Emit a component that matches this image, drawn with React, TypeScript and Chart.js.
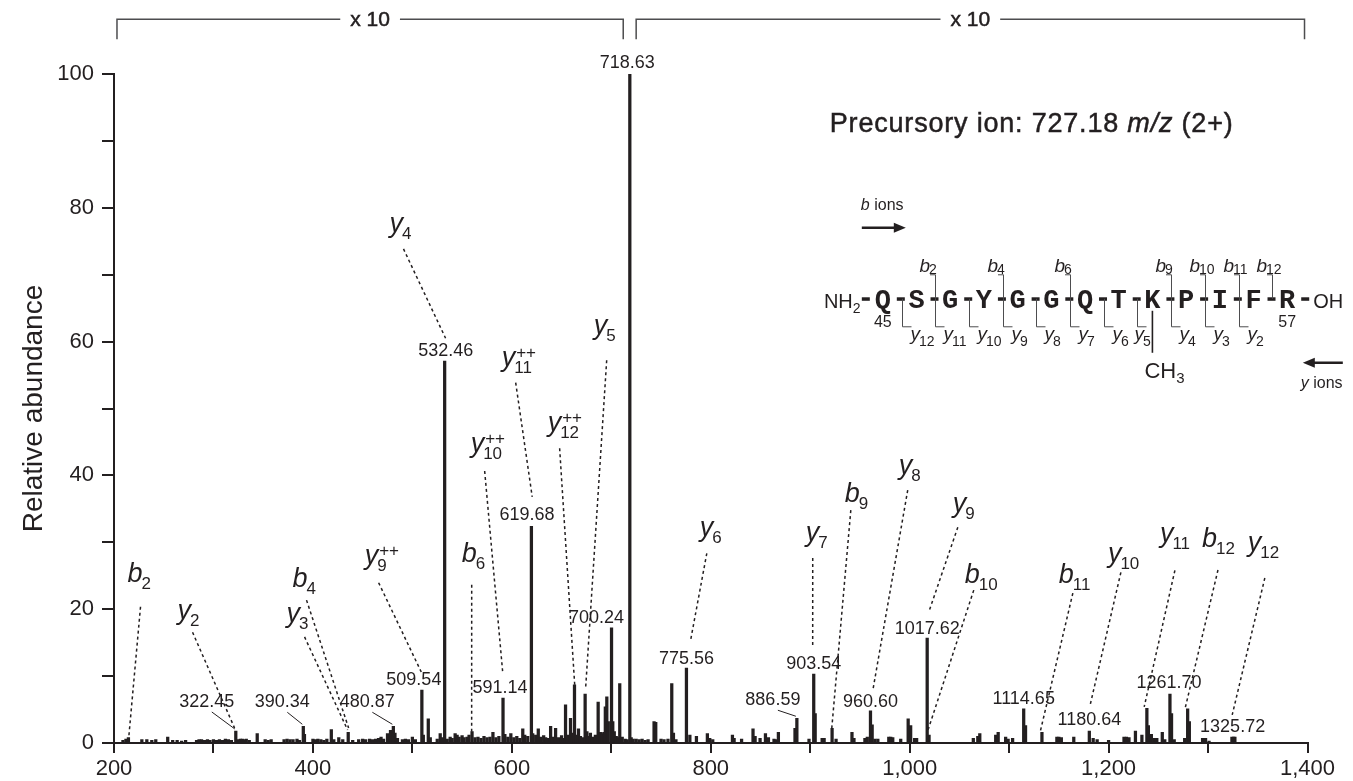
import React, { useEffect, useRef } from 'react';
import { Chart, registerables } from 'chart.js';

Chart.register(...registerables);

const FONT = '"Liberation Sans", Arial, Helvetica, sans-serif';
const MONO = '"Liberation Mono", "Courier New", monospace';
const INK = '#231f20';

// ---- Labelled peaks (m/z, relative abundance) ----
const labelledMz = [322.45, 390.34, 480.87, 509.54, 532.46, 591.14, 619.68, 700.24, 718.63, 775.56, 886.59, 903.54, 960.6, 1017.62, 1114.65, 1180.64, 1261.7, 1325.72];
const labelledAbundance = [1.8, 2.5, 2.5, 7.9, 57.1, 6.7, 32.4, 17.2, 100, 11.2, 3.7, 10.3, 4.8, 15.7, 5.1, 1.8, 7.3, 0.9];

// ---- Unlabelled peaks, [m/z, abundance] ----
const noiseLow: [number, number][] = [
  [209, 0.4], [212, 0.6], [214.5, 0.8], [228, 0.5], [233, 0.5], [238, 0.4], [242, 0.5], [254, 0.9], [259, 0.4], [263.5, 0.4],
  [268, 0.3], [272, 0.4], [283, 0.4], [285.5, 0.5], [288, 0.5], [291, 0.4], [294, 0.5], [296.5, 0.4], [300, 0.5], [303, 0.4],
  [306, 0.5], [309, 0.4], [312, 0.6], [315, 0.5], [318, 0.4], [325, 0.5], [327, 0.6], [329, 0.6], [331, 0.5], [333, 0.6],
  [336, 0.4], [344, 1.4], [352, 0.5], [355, 0.4], [358, 0.5], [371, 0.5], [374, 0.6], [377, 0.5], [380, 0.5], [384, 0.6],
  [386.5, 0.4], [391.5, 1.3], [400, 0.6], [402.5, 0.5], [405, 0.6], [408, 0.5], [411, 0.4], [414, 0.6], [418.5, 2.0], [421, 0.5],
  [426, 0.8], [430, 0.5], [435.5, 1.6], [440, 0.4], [446, 0.5], [450, 0.6], [453, 0.5], [457, 0.6], [460, 0.5], [463, 0.6],
  [466, 0.7], [468.5, 0.9], [471, 0.6], [475, 1.4], [478, 1.9], [482.5, 1.5], [485, 0.7], [490, 0.5], [493, 0.6], [496, 0.5],
  [500, 0.9], [503, 0.5], [511, 1.2], [516, 3.6], [518, 0.8],
];
const noiseMid: [number, number][] = [
  [525, 0.6], [528, 1.4], [530, 0.8], [535, 0.6], [538, 0.9], [540, 0.7], [543, 1.4], [545, 1.2], [547, 0.9], [550, 1.1],
  [552, 0.8], [555, 0.9], [557, 1.2], [560, 1.7], [563, 0.8], [566, 0.9], [569, 0.7], [572, 1.0], [575, 0.8], [578, 0.9],
  [581, 1.6], [584, 0.8], [587, 1.0], [593, 1.3], [596, 0.9], [599, 1.4], [602, 0.8], [605, 1.0], [608, 0.7], [611, 2.1],
  [613, 1.2], [616, 1.0], [621, 1.4], [624, 1.2], [626.6, 2.1], [629, 0.9], [632, 1.1], [634, 0.8], [637, 0.7], [639, 2.5],
  [641, 0.9], [644, 2.2], [647, 0.8], [650, 1.1], [652, 0.7], [654, 5.7], [656, 1.2], [659, 3.7], [661, 1.5], [663, 8.7],
  [665, 1.2], [667, 2.1], [669, 1.0], [671, 0.8], [673.7, 7.3], [675.5, 1.7], [677, 1.0], [679, 1.5], [681, 0.9], [684, 1.2],
  [686.8, 6.1], [689, 1.6], [691, 1.4], [692.5, 1.6], [694, 5.4], [695.5, 6.9], [697, 3.2], [701.5, 3.2], [703, 1.7], [705, 1.0],
  [707, 0.8], [708.5, 8.9], [711, 0.9], [714, 0.6], [716, 0.5],
];
const noiseHigh: [number, number][] = [
  [720, 0.8], [722, 0.6], [725, 0.6], [728, 0.5], [731, 0.6], [734, 0.4], [737, 0.5], [743, 3.2], [744.7, 3.1], [750, 0.6],
  [753, 0.5], [757, 0.6], [760.8, 8.9], [762.5, 1.5], [765, 0.5], [779, 1.2], [785.6, 1.0], [796.6, 1.4], [799, 0.7], [802, 0.5],
  [821.8, 1.2], [823.5, 0.7], [831, 0.6], [842.5, 2.1], [844.6, 1.0], [849.6, 0.7], [855, 1.4], [858, 0.8], [863.6, 0.6], [866, 0.5],
  [868, 1.6], [884.7, 2.2], [898.8, 0.6], [905, 4.4], [912, 0.7], [914, 0.7], [922, 2.2], [926, 0.6], [942, 1.6], [944, 0.7],
  [955, 0.7], [957.4, 0.9], [962.3, 2.7], [965, 0.6], [968, 0.6], [979, 0.9], [981, 0.9], [983, 0.8], [991, 0.6], [998.5, 3.6],
  [1001, 2.6], [1005, 0.7], [1007, 0.7], [1019.5, 1.2], [1064, 0.7], [1068.5, 1.0], [1070.5, 1.4], [1086.5, 1.2], [1089, 1.6], [1096.5, 0.9],
  [1099, 0.6], [1103.5, 0.7], [1116.5, 2.6], [1133, 1.6], [1148, 0.9], [1150, 0.9], [1152.5, 0.8], [1165, 0.9], [1184.5, 0.7], [1188.5, 0.5],
  [1200, 0.4], [1215.5, 0.9], [1218, 0.9], [1220.5, 0.8], [1227, 1.8], [1233.5, 1.2], [1238.5, 5.2], [1240, 2.6], [1243, 1.3], [1246, 0.7],
  [1248.5, 0.7], [1254, 1.6], [1256.5, 0.5], [1263.3, 4.4], [1266, 0.5], [1276.5, 0.7], [1279.5, 5.1], [1281.2, 3.2], [1294.5, 0.7], [1297.5, 0.7],
  [1301, 0.3], [1324, 0.9], [1327, 0.9],
];

// ---- Axis ticks ----
const xMin = 200;
const xMax = 1400;
const xStep = 100;
const xLabelEvery = 200;
const yMin = 0;
const yMax = 100;
const yStep = 10;
const yLabelEvery = 20;

// ---- Value label placement: label centre offset (px) from peak top, leader line flag ----
const valueLabelPlacement: Record<string, [number, number, boolean]> = {
  '322.45': [-29, -29, true],
  '390.34': [-21, -24, true],
  '480.87': [-26, -24, true],
  '509.54': [-8, -10, false],
  '532.46': [1, -9.5, false],
  '591.14': [-3, -10, false],
  '619.68': [-4.5, -11, false],
  '700.24': [-15, -10, false],
  '718.63': [-2.5, -11, false],
  '775.56': [0, -9.5, false],
  '886.59': [-24, -18, true],
  '903.54': [0, -10, false],
  '960.60': [0, -9, false],
  '1017.62': [0, -9, false],
  '1114.65': [0, -10, false],
  '1180.64': [0, -11, false],
  '1261.70': [-1, -11, false],
  '1325.72': [-1, -10, false],
};

// ---- Ion annotations: letter, subscript, superscript, label (m/z, abundance), line start offset (px), line end (m/z, abundance) ----
type Ion = [string, string, string, number, number, number, number, number, number];
const ionAnnotations: Ion[] = [
  ['b', '2', '', 213.6, 24.1, 13, 25, 214.6, 0.45],
  ['y', '2', '', 263.9, 18.5, 15, 13, 321.2, 2.24],
  ['b', '4', '', 379.5, 23.3, 14, 13, 435.9, 2.24],
  ['y', '3', '', 373.5, 18.1, 18, 15, 434.9, 1.94],
  ['y', '9', '++', 452, 26.8, 14, 19, 509.3, 10.5],
  ['b', '6', '', 549.6, 27.1, 10, 23, 559.6, 1.64],
  ['y', '10', '++', 558.6, 43.5, 14, 19, 590.8, 10.6],
  ['y', '11', '++', 589.8, 56.4, 14, 17, 620.5, 36.8],
  ['y', '12', '++', 636, 46.6, 12, 17, 663.2, 8.7],
  ['y', '4', '', 477, 76.4, 14, 17, 533.4, 60.5],
  ['y', '5', '', 682.3, 61.1, 13, 26, 674.2, 8.2],
  ['y', '6', '', 789, 30.9, 7, 17, 779.8, 15.4],
  ['y', '7', '', 895.5, 30.2, 7, 17, 902.5, 14.2],
  ['b', '9', '', 934.8, 36, 6, 8, 921.7, 2.24],
  ['y', '8', '', 989, 40.2, 9, 16, 963, 7.9],
  ['y', '9', '', 1043.4, 34.5, 5, 15, 1019.5, 19.7],
  ['b', '10', '', 1055.4, 23.9, 9, 7, 1017.5, 1.5],
  ['b', '11', '', 1150, 23.9, 14, 10, 1131.2, 1.64],
  ['y', '10', '', 1199.3, 27, 13, 10, 1181.5, 5.7],
  ['y', '11', '', 1251.6, 30, 15, 28, 1235.8, 5.4],
  ['b', '12', '', 1293.9, 29.3, 16, 23, 1277, 5.2],
  ['y', '12', '', 1340, 28.7, 17, 27, 1324.3, 4.2],
];

// ---- Top "x 10" brackets (m/z spans) ----
const bracketSpans: [number, number][] = [[203, 712], [725, 1397]];
const bracketText = 'x 10';
const bracketTopAb = 108.2;
const bracketFootAb = 105.2;

// ---- Inset ----
const precursorAnchor: [number, number] = [919.7, 91.3];
const sequenceAnchor: [number, number] = [973, 66.4];
const residues = ['Q', 'S', 'G', 'Y', 'G', 'G', 'Q', 'T', 'K', 'P', 'I', 'F', 'R'];
const bIonAtCleavage = ['', '2', '', '4', '', '6', '', '', '9', '10', '11', '12'];
const yIonAtCleavage = ['12', '11', '10', '9', '8', '7', '6', '5', '4', '3', '2', ''];
const firstResidueNumber = '45';
const lastResidueNumber = '57';
const methylResidueIndex = 8;

function drawSubText(ctx: CanvasRenderingContext2D, letter: string, sub: string, sup: string, x: number, y: number, size: number, subSize: number, subDrop: number, supRise: number) {
  ctx.textAlign = 'left';
  ctx.textBaseline = 'alphabetic';
  ctx.font = `italic ${size}px ${FONT}`;
  ctx.fillText(letter, x, y);
  const w = ctx.measureText(letter).width;
  ctx.font = `${subSize}px ${FONT}`;
  if (sub) ctx.fillText(sub, x + w - 1, y + subDrop);
  if (sup) ctx.fillText(sup, x + w + 1, y - supRise);
}

function arrow(ctx: CanvasRenderingContext2D, x1: number, x2: number, y: number) {
  const dir = Math.sign(x2 - x1);
  ctx.beginPath();
  ctx.lineWidth = 2.5;
  ctx.moveTo(x1, y);
  ctx.lineTo(x2 - dir * 8, y);
  ctx.stroke();
  ctx.beginPath();
  ctx.moveTo(x2, y);
  ctx.lineTo(x2 - dir * 12, y - 5);
  ctx.lineTo(x2 - dir * 12, y + 5);
  ctx.closePath();
  ctx.fill();
}

const annotationPlugin = {
  id: 'spectrumAnnotations',
  afterDatasetsDraw(chart: any) {
    const ctx: CanvasRenderingContext2D = chart.ctx;
    const xs = chart.scales.x;
    const ys = chart.scales.y;
    const px = (m: number) => xs.getPixelForValue(m);
    const py = (a: number) => ys.getPixelForValue(a);
    ctx.save();
    ctx.fillStyle = INK;
    ctx.strokeStyle = INK;

    // value labels
    labelledMz.forEach((mz, i) => {
      const text = mz.toFixed(2);
      const place = valueLabelPlacement[text];
      if (!place) return;
      const x = px(mz);
      const y = py(labelledAbundance[i]);
      const lx = x + place[0];
      const ly = y + place[1];
      ctx.font = `18px ${FONT}`;
      ctx.textAlign = 'center';
      ctx.textBaseline = 'middle';
      ctx.fillText(text, lx, ly);
      if (place[2]) {
        ctx.beginPath();
        ctx.lineWidth = 1;
        ctx.setLineDash([]);
        ctx.moveTo(lx + 5, ly + 10);
        ctx.lineTo(x - 1, y - 2);
        ctx.stroke();
      }
    });

    // ion annotations
    ionAnnotations.forEach(([letter, sub, sup, mz, ab, dx, dy, tmz, tab]) => {
      const x = px(mz);
      const y = py(ab);
      ctx.beginPath();
      ctx.setLineDash([3, 3]);
      ctx.lineWidth = 1.5;
      ctx.moveTo(x + dx, y + dy);
      ctx.lineTo(px(tmz), py(tab));
      ctx.stroke();
      ctx.setLineDash([]);
      drawSubText(ctx, letter, sub, sup, x, y, 27, 17, 7, 8);
    });

    // brackets
    const yT = py(bracketTopAb);
    const yB = py(bracketFootAb);
    bracketSpans.forEach(([a, b]) => {
      const x1 = px(a);
      const x2 = px(b);
      const cx = (x1 + x2) / 2;
      ctx.font = `21px ${FONT}`;
      const w = ctx.measureText(bracketText).width;
      ctx.strokeStyle = '#4d4d4f';
      ctx.lineWidth = 1.5;
      ctx.beginPath();
      ctx.moveTo(x1, yB);
      ctx.lineTo(x1, yT);
      ctx.lineTo(cx - w / 2 - 10, yT);
      ctx.moveTo(cx + w / 2 + 10, yT);
      ctx.lineTo(x2, yT);
      ctx.lineTo(x2, yB);
      ctx.stroke();
      ctx.textAlign = 'center';
      ctx.textBaseline = 'middle';
      ctx.fillText(bracketText, cx, yT + 1);
      ctx.lineWidth = 0.5;
      ctx.strokeStyle = INK;
      ctx.strokeText(bracketText, cx, yT + 1);
    });
    ctx.strokeStyle = INK;

    // precursor text
    {
      let x = px(precursorAnchor[0]);
      const y = py(precursorAnchor[1]);
      ctx.textAlign = 'left';
      ctx.textBaseline = 'alphabetic';
      const parts: [string, boolean][] = [['Precursory ion: 727.18 ', false], ['m/z', true], [' (2+)', false]];
      (ctx as any).letterSpacing = '0.8px';
      ctx.lineWidth = 0.5;
      parts.forEach(([t, it]) => {
        ctx.font = `${it ? 'italic ' : ''}27px ${FONT}`;
        ctx.fillText(t, x, y);
        ctx.strokeText(t, x, y);
        x += ctx.measureText(t).width;
      });
      (ctx as any).letterSpacing = '0px';
    }

    // sequence inset
    {
      const ax = px(sequenceAnchor[0]);
      const ay = py(sequenceAnchor[1]);
      const pitch = 33.7;
      ctx.font = `bold 27px ${MONO}`;
      ctx.textAlign = 'center';
      ctx.textBaseline = 'alphabetic';
      residues.forEach((r, i) => ctx.fillText(r, ax + i * pitch, ay + 9));
      const dash = (cx: number) => ctx.fillRect(cx - 4, ay - 1.5, 8, 3.5);
      dash(ax - 17);
      residues.forEach((_, i) => dash(ax + i * pitch + 18));
      ctx.font = `20px ${FONT}`;
      ctx.textAlign = 'right';
      ctx.fillText('NH', ax - 30, ay + 9);
      ctx.textAlign = 'left';
      ctx.font = `14px ${FONT}`;
      ctx.fillText('2', ax - 30, ay + 14);
      ctx.font = `20px ${FONT}`;
      ctx.fillText('OH', ax + (residues.length - 1) * pitch + 26, ay + 9);
      ctx.font = `16px ${FONT}`;
      ctx.textAlign = 'center';
      ctx.fillText(firstResidueNumber, ax, ay + 28);
      ctx.fillText(lastResidueNumber, ax + (residues.length - 1) * pitch, ay + 28);

      // cleavage markers
      ctx.strokeStyle = '#4d4d4f';
      ctx.lineWidth = 1;
      bIonAtCleavage.forEach((b, i) => {
        const x = Math.round(ax + i * pitch + 18.7) + 0.5;
        const yy = yIonAtCleavage[i];
        if (b) {
          ctx.beginPath();
          ctx.moveTo(x, ay);
          ctx.lineTo(x, ay - 24);
          ctx.lineTo(x - 5.5, ay - 24);
          ctx.stroke();
          ctx.fillStyle = INK;
          drawSubText(ctx, 'b', b, '', x - 16, ay - 27, 19, 14, 2, 0);
        }
        if (yy) {
          ctx.beginPath();
          ctx.moveTo(x, ay);
          ctx.lineTo(x, ay + 28);
          ctx.lineTo(x + 9, ay + 28);
          ctx.stroke();
          ctx.fillStyle = INK;
          // the label next to the methylated residue is pulled left to clear the methyl bond
          const labelX = i === methylResidueIndex - 1 ? x - 3 : x + 8;
          drawSubText(ctx, 'y', yy, '', labelX, ay + 41, 19, 14, 6, 0);
        }
      });
      // methyl group
      const kx = ax + methylResidueIndex * pitch;
      ctx.strokeStyle = INK;
      ctx.lineWidth = 1.6;
      ctx.beginPath();
      ctx.moveTo(kx, ay + 12);
      ctx.lineTo(kx, ay + 54);
      ctx.stroke();
      ctx.textAlign = 'left';
      ctx.font = `22px ${FONT}`;
      ctx.fillText('CH', kx - 8, ay + 79);
      const chw = ctx.measureText('CH').width;
      ctx.font = `15px ${FONT}`;
      ctx.fillText('3', kx - 8 + chw, ay + 84);

      // b ions / y ions legends
      drawSubText(ctx, 'b', '', '', ax - 22, ay - 89, 16, 12, 0, 0);
      ctx.font = `16px ${FONT}`;
      ctx.fillText(' ions', ax - 22 + 9, ay - 89);
      arrow(ctx, ax - 21, ax + 23, ay - 71);
      arrow(ctx, ax + 460, ax + 420, ay + 64);
      drawSubText(ctx, 'y', '', '', ax + 418, ay + 89, 16, 12, 0, 0);
      ctx.font = `16px ${FONT}`;
      ctx.fillText(' ions', ax + 418 + 8, ay + 89);
    }
    ctx.restore();
  },
};

export default function App() {
  const ref = useRef<HTMLCanvasElement | null>(null);
  useEffect(() => {
    if (!ref.current) return;
    const toPoints = (list: [number, number][]) => list.map(([x, y]) => ({ x, y }));
    const barStyle = { backgroundColor: INK, borderWidth: 0, barThickness: 2.6, grouped: false };
    const chart = new Chart(ref.current, {
      type: 'bar',
      data: {
        datasets: [
          { label: 'labelled', data: labelledMz.map((x, i) => ({ x, y: labelledAbundance[i] })), ...barStyle },
          { label: 'low', data: toPoints(noiseLow), ...barStyle },
          { label: 'mid', data: toPoints(noiseMid), ...barStyle },
          { label: 'high', data: toPoints(noiseHigh), ...barStyle },
        ] as any,
      },
      options: {
        responsive: false,
        animation: false,
        devicePixelRatio: 1,
        layout: { padding: { top: 74, right: 45.5, bottom: 0, left: 0 } },
        plugins: { legend: { display: false }, tooltip: { enabled: false } },
        scales: {
          x: {
            type: 'linear',
            min: xMin,
            max: xMax,
            offset: false,
            afterFit: (s: any) => { s.height = 38; },
            grid: { display: true, drawOnChartArea: false, drawTicks: true, tickLength: 10, color: INK, lineWidth: 2, offset: false },
            border: { display: true, color: INK, width: 2 },
            ticks: {
              stepSize: xStep,
              autoSkip: false,
              maxRotation: 0,
              padding: 3,
              color: INK,
              font: { family: FONT, size: 22 },
              callback: (v: any) => (Number(v) % xLabelEvery === 0 ? Number(v).toLocaleString('en-US') : ''),
            },
          },
          y: {
            type: 'linear',
            min: yMin,
            max: yMax,
            afterFit: (s: any) => { s.width = 114; },
            grid: { display: true, drawOnChartArea: false, drawTicks: true, tickLength: 12, color: INK, lineWidth: 2 },
            border: { display: true, color: INK, width: 2 },
            ticks: {
              stepSize: yStep,
              autoSkip: false,
              padding: 8,
              color: INK,
              font: { family: FONT, size: 22 },
              callback: (v: any) => (Number(v) % yLabelEvery === 0 ? String(v) : ''),
            },
            title: { display: true, text: 'Relative abundance', color: INK, font: { family: FONT, size: 28 }, padding: { top: 17, bottom: 0 } },
          },
        },
      } as any,
      plugins: [annotationPlugin],
    });
    return () => chart.destroy();
  }, []);
  return (
    <div style={{ position: 'fixed', left: 0, top: 0, width: 1353, height: 781, background: '#fff' }}>
      <canvas ref={ref} width={1353} height={781} style={{ display: 'block' }} />
    </div>
  );
}
